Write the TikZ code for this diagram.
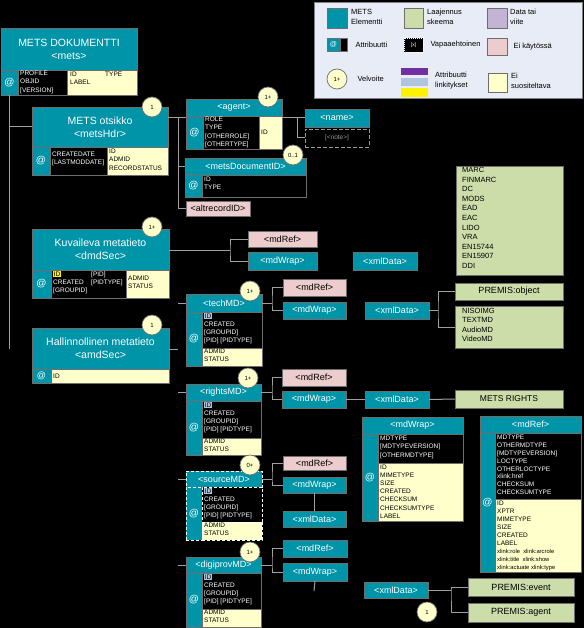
\documentclass[tikz,border=0pt]{standalone}
\usepackage{fontspec}
\setmainfont{Liberation Sans}
\usetikzlibrary{calc}
\definecolor{tealc}{RGB}{0,148,168}
\definecolor{yelc}{RGB}{255,255,204}
\definecolor{pinkc}{RGB}{236,204,204}
\definecolor{grnc}{RGB}{204,221,170}
\definecolor{purpc}{RGB}{196,180,212}
\definecolor{legc}{RGB}{232,236,246}
\definecolor{bordc}{RGB}{110,110,110}
\definecolor{linec}{RGB}{160,160,160}
\definecolor{barP}{RGB}{112,48,160}
\definecolor{barB}{RGB}{176,196,222}
\definecolor{hlBc}{RGB}{176,196,222}
\newcommand\cell[7][]{\node[#1,minimum width={(#5-#3)*1pt},minimum height={(#6-#4)*1pt},inner sep=0pt,outer sep=0pt,align=center] (#2) at ({(#3+#5)/2},{(#4+#6)/2}) {#7};}
\newcommand\txt[5][]{\node[#1,anchor=north west,inner sep=0pt,align=left] (#2) at (#3,#4) {#5};}
\newcommand\hlY[1]{{\setlength{\fboxsep}{0.5pt}\colorbox{yellow}{\color{black}#1}}}
\newcommand\hlB[1]{{\setlength{\fboxsep}{0.5pt}\colorbox{hlBc}{\color{black}#1}}}
\newcommand\mdatt{\hlB{ID}\\CREATED\\{}[GROUPID]\\{}[PID] [PIDTYPE]}
\tikzset{
 tbox/.style={fill=tealc,draw=bordc,line width=0.7pt,text=white,font=\fontsize{9}{11}\selectfont},
 tbig/.style={tbox,font=\fontsize{10.5}{13}\selectfont},
 atc/.style={tbox,font=\fontsize{10}{11}\selectfont},
 ybox/.style={fill=yelc,draw=bordc,line width=0.7pt},
 kbox/.style={fill=black,draw=bordc,line width=0.7pt},
 pbox/.style={fill=pinkc,draw=bordc,line width=0.7pt,text=black,font=\fontsize{9}{11}\selectfont},
 gbox/.style={fill=grnc,draw=bordc,line width=0.7pt,text=black,font=\fontsize{9}{11}\selectfont},
 dsh/.style={draw=white,dash pattern=on 3pt off 2pt},
 wf/.style={text=white,font=\fontsize{6.5}{8.2}\selectfont},
 bf/.style={text=black,font=\fontsize{6.5}{8.2}\selectfont},
 lf/.style={text=black,font=\fontsize{7.5}{10}\selectfont},
 circ/.style={circle,fill=yelc,draw=bordc,line width=0.7pt,minimum size=20pt,inner sep=0pt,font=\fontsize{6}{7}\selectfont},
 conn/.style={draw=linec,line width=1pt}
}
\begin{document}
\begin{tikzpicture}[x=1pt,y=-1pt]
\fill[black] (0,0) rectangle (584,628);
\useasboundingbox (0,0) rectangle (584,628);
% ---------- legend
\cell[fill=legc,draw=gray]{leg}{314}{2}{582}{98}{}
\cell[tbox]{lgA}{327}{8}{347}{28}{}
\txt[lf]{lgAt}{351}{9}{METS\\Elementti}
\cell[gbox]{lgB}{404}{8}{423}{28}{}
\txt[lf]{lgBt}{427}{9}{Laajennus\\skeema}
\cell[fill=purpc,draw=bordc]{lgC}{487}{8}{507}{28}{}
\txt[lf]{lgCt}{510}{9}{Data tai\\viite}
\cell[tbox,font=\fontsize{7}{8}\selectfont]{lgD}{327}{38}{340}{51}{@}
\cell[kbox]{lgD2}{340}{38}{347}{51}{}
\node[lf,anchor=west] (lgDt) at (352,45) {Attribuutti};
\cell[fill=black,draw=white,dash pattern=on 1pt off 1pt,text=white,font=\fontsize{5}{6}\selectfont]{lgE}{404}{38}{423}{52}{[x]}
\node[lf,anchor=west] (lgEt) at (427,45) {Vapaaehtoinen};
\cell[pbox]{lgF}{487}{38}{507}{55}{}
\node[lf,anchor=west] (lgFt) at (510,47) {Ei käytössä};
\node[circ] (lgG) at (337,79) {1+};
\node[lf,anchor=west] (lgGt) at (354,79) {Velvoite};
\cell[fill=barP]{lgH1}{401}{68}{428}{75}{}
\cell[fill=barB]{lgH2}{401}{78}{428}{86}{}
\cell[fill=yellow]{lgH3}{401}{88}{428}{97}{}
\txt[lf]{lgHt}{435}{72}{Attribuutti\\linkitykset}
\cell[ybox]{lgI}{488}{73}{507}{92}{}
\txt[lf]{lgIt}{511}{73}{Ei\\suositeltava}
% ---------- mets
\cell[tbig]{mets}{1}{28}{137}{70}{METS DOKUMENTTI\\<mets>}
\cell[atc]{metsAt}{1}{70}{18}{95}{@}
\cell[kbox]{metsB}{18}{70}{67}{95}{}
\txt[wf]{metsBt}{20}{71}{PROFILE\\OBJID\\{}[VERSION]}
\cell[ybox]{metsC}{67}{70}{137}{95}{}
\txt[bf]{metsCt}{70}{72}{\makebox[35pt][l]{ID}TYPE\\LABEL}
% ---------- metsHdr
\cell[tbig]{hdr}{32}{107}{168}{147}{METS otsikko\\<metsHdr>}
\cell[atc]{hdrAt}{32}{147}{50}{175}{@}
\cell[kbox]{hdrB}{50}{147}{107}{175}{}
\txt[wf]{hdrBt}{52}{152}{CREATEDATE\\{}[LASTMODDATE]}
\cell[ybox]{hdrC}{107}{147}{168}{175}{}
\txt[bf]{hdrCt}{109}{149}{ID\\ADMID\\RECORDSTATUS}
\node[circ] (hdrN) at (152,107) {1};
% ---------- dmdSec
\cell[tbig]{dmd}{32}{229}{169}{270}{Kuvaileva metatieto\\<dmdSec>}
\cell[atc]{dmdAt}{32}{270}{51}{298}{@}
\cell[kbox]{dmdB}{51}{270}{126}{298}{}
\txt[wf]{dmdBt}{53}{271}{\makebox[38pt][l]{\hlY{ID}}[PID]\\\makebox[38pt][l]{CREATED}[PIDTYPE]\\{}[GROUPID]}
\cell[ybox]{dmdC}{126}{270}{169}{298}{}
\txt[bf]{dmdCt}{128}{276}{ADMID\\STATUS}
\node[circ] (dmdN) at (152,227) {1+};
% ---------- amdSec
\cell[tbig]{amd}{32}{328}{169}{369}{Hallinnollinen metatieto\\<amdSec>}
\cell[atc,font=\fontsize{9}{10}\selectfont]{amdAt}{32}{369}{51}{383}{@}
\cell[ybox]{amdB}{51}{369}{169}{383}{}
\node[bf,anchor=west,inner sep=0pt] (amdBt) at (53,376) {ID};
\node[circ] (amdN) at (152,325) {1};
% trunk
\draw[conn] (metsAt.south) -- (metsAt.south|-amd.west);
\draw[conn] (metsAt.south|-hdr.west) -- (hdr.west);
% ---------- agent
\cell[tbox]{ag}{186}{99}{282}{116}{<agent>}
\cell[atc]{agAt}{186}{116}{203}{149}{@}
\cell[kbox]{agB}{203}{116}{259}{149}{}
\txt[wf]{agBt}{205}{117}{ROLE\\TYPE\\{}[OTHERROLE]\\{}[OTHERTYPE]}
\cell[ybox]{agC}{259}{116}{282}{149}{}
\node[bf,anchor=west,inner sep=0pt] (agCt) at (261,132) {ID};
\node[circ] (agN) at (268,97) {1+};
\cell[tbox]{nm}{305}{109}{369}{127}{<name>}
\cell[fill=black,draw=gray!80,dash pattern=on 4pt off 2pt,text=gray!80,font=\fontsize{6.5}{8}\selectfont]{nt}{305}{129}{369}{147}{[<note>]}
\coordinate (nJ) at (297,118);
\draw[conn] (agC.east|-nm.west) -- (nm.west);
\draw[conn] (nJ) |- (nt.west);
% ---------- metsDocumentID
\cell[tbox]{mdi}{185}{158}{306}{175}{<metsDocumentID>}
\cell[atc]{mdiAt}{185}{175}{202}{197}{@}
\cell[kbox]{mdiB}{202}{175}{306}{197}{}
\txt[wf]{mdiBt}{204}{177}{ID\\TYPE}
\node[circ] (mdiN) at (293,155) {0..1};
\cell[pbox]{alt}{186}{201}{250}{216}{<altrecordID>}
\coordinate (hJ) at (178,118);
\draw[conn] (hdr.east|-hJ) -- (agAt.west|-hJ);
\draw[conn] (hJ) |- (alt.west);
\draw[conn] (hJ|-mdi.west) -- (mdi.west);
% ---------- dmd children
\cell[pbox]{dRef}{248}{231}{317}{247}{<mdRef>}
\cell[tbox]{dWr}{248}{252}{317}{270}{<mdWrap>}
\cell[tbox]{dXml}{353}{252}{417}{270}{<xmlData>}
\coordinate (dJ) at (230,250);
\draw[conn] (dmd.east|-dJ) -- (dJ);
\draw[conn] (dRef.west) -| (dJ) |- (dWr.west);
\cell[gbox]{dList}{456}{166}{563}{275}{}
\txt[lf,font=\fontsize{7.5}{9.6}\selectfont]{dListt}{462}{167}{MARC\\FINMARC\\DC\\MODS\\EAD\\EAC\\LIDO\\VRA\\EN15744\\EN15907\\DDI}
% ---------- amd children stubs
\coordinate (aJ) at (178,349);
\draw[conn] (amd.east|-aJ) -- (aJ);
% ---------- techMD
\cell[tbox]{tT}{186}{294}{262}{312}{<techMD>}
\cell[atc]{tAt}{186}{312}{202}{366}{@}
\cell[kbox]{tB}{202}{312}{262}{348}{}
\txt[wf]{tBt}{204}{313}{\mdatt}
\cell[ybox]{tC}{202}{348}{262}{366}{}
\txt[bf]{tCt}{204}{349}{ADMID\\STATUS}
\node[circ] (tN) at (250,291) {1+};
\draw[conn] (aJ|-tT.west) -- (tT.west);
\coordinate (tJ) at (272,303);
\draw[conn] (tT.east) -- (tJ);
\cell[pbox]{tRef}{283}{279}{346}{296}{<mdRef>}
\cell[tbox]{tWr}{283}{302}{346}{319}{<mdWrap>}
\draw[conn] (tRef.west) -| (tJ) |- (tWr.west);
\cell[tbox]{tXml}{365}{302}{429}{319}{<xmlData>}
\coordinate (tK) at (438,310.5);
\draw[conn] (tXml.east) -- (tK);
\cell[gbox]{tObj}{455}{283}{563}{300}{PREMIS:object}
\cell[gbox]{tList}{455}{306}{563}{348}{}
\txt[lf,font=\fontsize{7.5}{9.3}\selectfont]{tListt}{462}{308}{NISOIMG\\TEXTMD\\AudioMD\\VideoMD}
\draw[conn] (tObj.west) -| (tK) |- (tList.west);
% ---------- rightsMD
\cell[tbox]{rT}{186}{384}{261}{401}{<rightsMD>}
\cell[atc]{rAt}{186}{401}{202}{455}{@}
\cell[kbox]{rB}{202}{401}{261}{438}{}
\txt[wf]{rBt}{204}{402}{\mdatt}
\cell[ybox]{rC}{202}{438}{261}{455}{}
\txt[bf]{rCt}{204}{439}{ADMID\\STATUS}
\node[circ] (rN) at (248,378) {1+};
\draw[conn] (aJ|-rT.west) -- (rT.west);
\coordinate (rJ) at (272,392.5);
\draw[conn] (rT.east) -- (rJ);
\cell[pbox]{rRef}{282}{369}{346}{386}{<mdRef>}
\cell[tbox]{rWr}{282}{391}{346}{408}{<mdWrap>}
\draw[conn] (rRef.west) -| (rJ) |- (rWr.west);
\cell[tbox]{rXml}{365}{391}{429}{408}{<xmlData>}
\draw[conn] (rWr.east) -- (rXml.west);
\cell[gbox,font=\fontsize{8.5}{10}\selectfont]{rRights}{455}{390}{563}{408}{METS RIGHTS}
\draw[conn] (rXml.east) -- (rRights.west);
% ---------- sourceMD
\cell[tbox,dsh]{sT}{186}{471}{262}{487}{<sourceMD>}
\cell[atc,dsh]{sAt}{186}{487}{202}{540}{@}
\cell[kbox,dsh]{sB}{202}{487}{262}{522}{}
\txt[wf]{sBt}{204}{488}{\mdatt}
\cell[ybox,dsh]{sC}{202}{522}{262}{540}{}
\txt[bf]{sCt}{204}{523}{ADMID\\STATUS}
\node[circ] (sN) at (250,465) {0+};
\draw[conn] (aJ|-sT.west) -- (sT.west);
\coordinate (sJ) at (272,479);
\draw[conn] (sT.east) -- (sJ);
\cell[pbox]{sRef}{283}{456}{346}{470}{<mdRef>}
\cell[tbox]{sWr}{283}{477}{346}{493}{<mdWrap>}
\draw[conn] (sRef.west) -| (sJ) |- (sWr.west);
\cell[tbox]{sXml}{283}{511}{346}{527}{<xmlData>}
\draw[conn] (sWr.south) -- (sXml.north);
% ---------- digiprovMD
\cell[tbox]{gT}{186}{557}{261}{573}{<digiprovMD>}
\cell[atc]{gAt}{186}{573}{202}{627}{@}
\cell[kbox]{gB}{202}{573}{261}{609}{}
\txt[wf]{gBt}{204}{574}{\mdatt}
\cell[ybox]{gC}{202}{609}{261}{627}{}
\txt[bf]{gCt}{204}{610}{ADMID\\STATUS}
\node[circ] (gN) at (250,552) {1+};
\draw[conn] (aJ|-gT.west) -- (gT.west);
\coordinate (gJ) at (272,565);
\draw[conn] (gT.east) -- (gJ);
\cell[tbox]{gRef}{283}{540}{347}{557}{<mdRef>}
\cell[tbox]{gWr}{283}{563}{347}{581}{<mdWrap>}
\draw[conn] (gRef.west) -| (gJ) |- (gWr.west);
\coordinate (gEnd) at (314,591);
\draw[conn] (gWr.south) -- (gEnd);
\cell[tbox]{gXml}{364}{582}{428}{598}{<xmlData>}
\coordinate (gK) at (451,590);
\draw[conn] (gXml.east) -- (gK);
\cell[gbox]{gEv}{468}{578}{574}{596}{PREMIS:event}
\cell[gbox]{gAg}{468}{603}{574}{622}{PREMIS:agent}
\draw[conn] (gEv.west) -| (gK) |- (gAg.west);
\node[circ] (gN2) at (427,612) {1};
% ---------- big mdWrap
\cell[tbox]{wT}{362}{417}{463}{434}{<mdWrap>}
\cell[atc]{wAt}{362}{434}{378}{521}{@}
\cell[kbox]{wB}{378}{434}{463}{463}{}
\txt[wf]{wBt}{380}{436}{MDTYPE\\{}[MDTYPEVERSION]\\{}[OTHERMDTYPE]}
\cell[ybox]{wC}{378}{463}{463}{521}{}
\txt[bf]{wCt}{380}{464.5}{ID\\MIMETYPE\\SIZE\\CREATED\\CHECKSUM\\CHECKSUMTYPE\\LABEL}
% ---------- big mdRef
\cell[tbox]{fT}{480}{416}{581}{433}{<mdRef>}
\cell[atc]{fAt}{480}{433}{495}{572}{@}
\cell[kbox]{fB}{495}{433}{581}{499}{}
\txt[wf,font=\fontsize{6.5}{7.96}\selectfont]{fBt}{497}{434.5}{MDTYPE\\OTHERMDTYPE\\{}[MDTYPEVERSION]\\LOCTYPE\\OTHERLOCTYPE\\xlink:href\\CHECKSUM\\CHECKSUMTYPE}
\cell[ybox]{fC}{495}{499}{581}{572}{}
\txt[bf,font=\fontsize{6.5}{8}\selectfont]{fCt}{497}{501}{ID\\XPTR\\MIMETYPE\\SIZE\\CREATED\\LABEL\\{\fontsize{5.8}{8}\selectfont xlink:role\ \ xlink:arcrole}\\{\fontsize{5.8}{8}\selectfont xlink:title\ \ xlink:show}\\{\fontsize{5.8}{8}\selectfont xlink:actuate xlink:type}}
\end{tikzpicture}
\end{document}
